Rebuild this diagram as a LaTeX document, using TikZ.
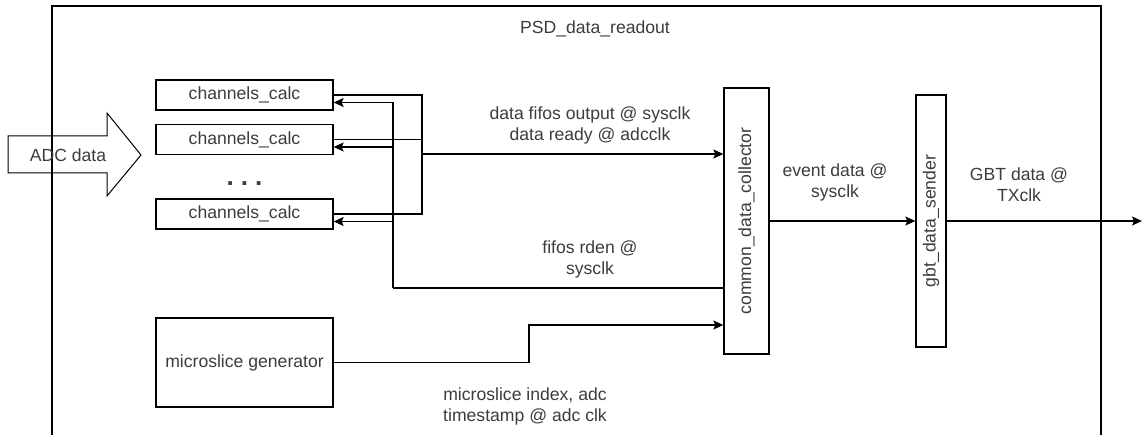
\documentclass[tikz,border=0pt]{standalone}
\usepackage{fontspec}
\setmainfont{Liberation Sans}
\usepackage{tikz}
\usetikzlibrary{arrows.meta}
\definecolor{txtgray}{RGB}{60,60,60}

\begin{document}
\begin{tikzpicture}[x=1pt,y=-1pt,>={Stealth[length=10pt,width=9pt,inset=2pt]},line width=1.3pt,
    font=\fontsize{17.6}{21}\selectfont,
    block/.style={draw,rectangle,inner sep=0pt,text=txtgray},
    lbl/.style={align=center,text=txtgray,inner sep=0pt}]
  \useasboundingbox (0,0) rectangle (1142,435);

  % outer frame, bottom is off the page
  \draw (52,445) -- (52,6) -- (1101,6) -- (1101,445);
  \node[lbl] (title) at (595,29) {PSD\_data\_readout};

  % input arrow
  \draw[line width=1pt] (8,136) -- (107,136) -- (107,113) -- (141,155) -- (107,196) -- (107,173) -- (8,173) -- cycle;
  \node[lbl] (adc) at (68,155) {ADC data};

  \node[block, minimum width=177, minimum height=30] (calc1) at (244.5,95)    {channels\_calc};
  \node[block, minimum width=177, minimum height=30] (calc2) at (244.5,139.5) {channels\_calc};
  \node[lbl, font=\fontsize{26}{26}\selectfont\bfseries] (dots) at (244.5,184) {.\hspace{7pt}.\hspace{7pt}.};
  \node[block, minimum width=177, minimum height=30] (calc3) at (244.5,214)   {channels\_calc};

  \node[block, minimum width=177, minimum height=89] (micro) at (244.5,362.5) {microslice generator};

  \node[block, minimum width=45, minimum height=266] (collector) at (746.5,221)
       {\rotatebox{90}{common\_data\_collector}};
  \node[block, minimum width=30, minimum height=252] (sender) at (931,221)
       {\rotatebox{90}{gbt\_data\_sender}};

  \coordinate (merge) at (422,154);
  \coordinate (rdbus) at (393,288);
  \coordinate (step)  at (529,325);
  \coordinate (gbtout) at (1142,221);

  % data from the channels
  \draw (calc1.east) -| (merge);
  \draw (calc3.east) -| (merge);
  \draw (calc2.east) -- (calc2.east -| merge);
  \draw[->] (merge) -- (merge -| collector.west);

  % read enables back to the channels
  \draw (collector.west |- rdbus) -- (rdbus);
  \draw[->] (rdbus) |- ([yshift=-7.5pt]calc1.east);
  \draw[->] (rdbus) |- ([yshift=-7.5pt]calc2.east);
  \draw[->] (rdbus) |- ([yshift=-7.5pt]calc3.east);

  \draw[->] (micro.east) -| (step) -- (step -| collector.west);
  \draw[->] (collector.east) -- (sender.west);
  \draw[->] (sender.east) -- (gbtout);

  \node[lbl] (l1) at (590,125.5) {data fifos output @ sysclk\\data ready @ adcclk};
  \node[lbl] (l2) at (590,259) {fifos rden @\\sysclk};
  \node[lbl] (l3) at (835,182) {event data @\\sysclk};
  \node[lbl] (l4) at (1019,185) {GBT data @\\TXclk};
  \node[lbl] (l5) at (525,406.5) {microslice index, adc\\timestamp @ adc clk};
\end{tikzpicture}
\end{document}
